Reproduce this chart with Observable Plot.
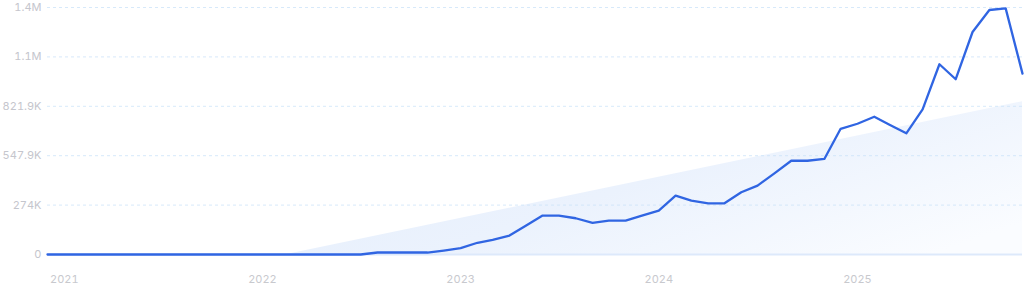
<!DOCTYPE html>
<html>
<head>
<meta charset="utf-8">
<script src="https://cdn.jsdelivr.net/npm/d3@7"></script>
<script src="https://cdn.jsdelivr.net/npm/@observablehq/plot@0.6"></script>
<style>
  html, body { margin: 0; padding: 0; background: #ffffff; }
  #chart { width: 1024px; height: 293px; }
</style>
</head>
<body>
<div id="chart"></div>
<script>
// ---- Data ----
const startMonth = "2020-12-01";
const monthlyValues = [
  0, 0, 0, 0, 0, 0, 0, 0, 0, 0,
  0, 0, 0, 0, 0, 0, 0, 0, 0, 0,
  11000, 11000, 11000, 11000, 22000, 35000, 65000, 81000, 105000, 160000,
  216000, 216000, 201000, 175000, 188000, 188000, 216000, 243000, 326000, 299000,
  284000, 284000, 345000, 382000, 450000, 520000, 520000, 530000, 697000, 725000,
  764000, 720000, 672000, 805000, 1055000, 972000, 1234000, 1356000, 1365000, 1003000
];
const trendDates = ["2022-02-15", "2025-11-01"];
const trendValues = [0, 847000];
const yTickValues = [0, 273967, 547934, 821901, 1095868, 1369835];
const yTickLabels = ["0", "274K", "547.9K", "821.9K", "1.1M", "1.4M"];

// ---- Build tables ----
const months = d3.utcMonth.range(new Date(startMonth), d3.utcMonth.offset(new Date(startMonth), monthlyValues.length));
const series = months.map((d, i) => ({date: d, value: monthlyValues[i]}));
const trend = trendDates.map((d, i) => ({date: new Date(d), value: trendValues[i]}));

const plot = Plot.plot({
  width: 1024,
  height: 293,
  marginLeft: 47,
  marginRight: 2,
  marginTop: 7,
  marginBottom: 39,
  style: {fontFamily: "Inter, 'Noto Sans', sans-serif", background: "#ffffff", color: "#c5c6cd"},
  x: {type: "utc", domain: [months[0], months[months.length - 1]]},
  y: {domain: [0, yTickValues[yTickValues.length - 1]]},
  marks: [
    Plot.areaY(trend, {x: "date", y: "value", fill: "url(#trendFill)"}),
    Plot.gridY(yTickValues.slice(1), {stroke: "#c9e2f8", strokeOpacity: 0.75, strokeDasharray: "3,3"}),
    Plot.ruleY([0], {stroke: "#dde9fb", strokeWidth: 2}),
    Plot.axisY(yTickValues, {
      tickSize: 0, tickPadding: 6, fontSize: 11, fill: "#c5c6cd",
      tickFormat: (d) => yTickLabels[yTickValues.indexOf(d)], label: null
    }),
    Plot.axisX({
      ticks: d3.utcYear.every(1), tickFormat: d3.utcFormat("%Y"),
      tickSize: 0, tickPadding: 21, fontSize: 11, fill: "#c8c9ce", label: null
    }),
    Plot.lineY(series, {x: "date", y: "value", stroke: "#3065e2", strokeWidth: 2.3, strokeLinejoin: "round"})
  ]
});

const defs = d3.select(plot).insert("defs", ":first-child");
const grad = defs.append("linearGradient")
  .attr("id", "trendFill")
  .attr("x1", "0").attr("y1", "0.2").attr("x2", "1").attr("y2", "0.8");
grad.append("stop").attr("offset", "0%").attr("stop-color", "#e4eefc");
grad.append("stop").attr("offset", "50%").attr("stop-color", "#ebf2fd");
grad.append("stop").attr("offset", "100%").attr("stop-color", "#fafcff");

document.getElementById("chart").appendChild(plot);
</script>
</body>
</html>
